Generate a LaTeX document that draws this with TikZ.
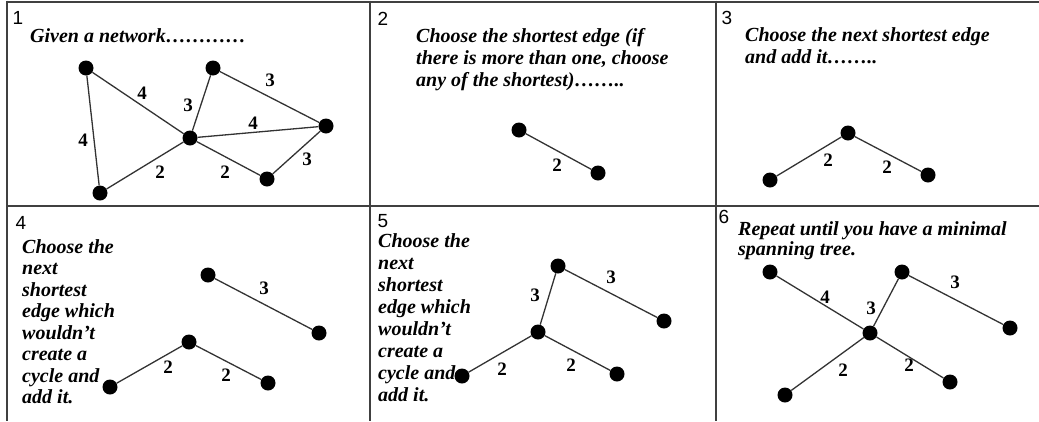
\documentclass[tikz,border=0pt]{standalone}
\usepackage{fontspec}
\setmainfont{Liberation Serif}
\newfontfamily\arialf{Liberation Sans}
\begin{document}
\begin{tikzpicture}[x=1pt,y=-1pt]
\tikzset{
 dot/.style={circle, fill=black, inner sep=0pt, minimum size=15pt},
 edge/.style={draw=black!80, line width=1.3pt},
 wt/.style={font=\fontsize{19}{19}\selectfont\bfseries, inner sep=0pt},
 pnum/.style={font=\arialf\fontsize{19}{19}\selectfont, inner sep=0pt},
 txt/.style={font=\fontsize{20}{22}\selectfont\bfseries\itshape, align=left, anchor=base west, inner sep=0pt},
 gridline/.style={draw=black!75, line width=2pt}
}
\useasboundingbox (0,0) rectangle (1039,421);
% frame
\draw[gridline] (6,1.5) -- (1039,1.5);
\draw[gridline] (7,0.5) -- (7,421);
\draw[gridline] (370,0.5) -- (370,421);
\draw[gridline] (716,0.5) -- (716,421);
\draw[gridline] (6,206) -- (1039,206);

% panel numbers
\node[pnum] (n1) at (18,18) {1};
\node[pnum] (n2) at (383,19) {2};
\node[pnum] (n3) at (727,18) {3};
\node[pnum] (n4) at (21,223) {4};
\node[pnum] (n5) at (383,221) {5};
\node[pnum] (n6) at (724,217) {6};

% texts (anchor is the baseline of the last line)
\node[txt] (t1) at (30,42) {Given a network…………};
\node[txt] (t2) at (416,86) {Choose the shortest edge (if\\there is more than one, choose\\any of the shortest)……..};
\node[txt] (t3) at (745,63) {Choose the next shortest edge\\and add it……..};
\node[txt, font=\fontsize{20}{21.5}\selectfont\bfseries\itshape] (t4) at (22,403.5) {Choose the\\next\\shortest\\edge which\\wouldn’t\\create a\\cycle and\\add it.};
\node[txt] (t5) at (378,401) {Choose the\\next\\shortest\\edge which\\wouldn’t\\create a\\cycle and\\add it.};
\node[txt, font=\fontsize{20}{20}\selectfont\bfseries\itshape] (t6) at (738,255) {Repeat until you have a minimal\\spanning tree.};

% panel 1
\node[dot] (a1) at (86,68) {};
\node[dot] (b1) at (100,193) {};
\node[dot] (c1) at (190,138) {};
\node[dot] (d1) at (213,68) {};
\node[dot] (e1) at (326,126) {};
\node[dot] (f1) at (267,179) {};
\draw[edge] (a1) -- (c1);
\draw[edge] (a1) -- (b1);
\draw[edge] (c1) -- (d1);
\draw[edge] (d1) -- (e1);
\draw[edge] (c1) -- (e1);
\draw[edge] (b1) -- (c1);
\draw[edge] (c1) -- (f1);
\draw[edge] (e1) -- (f1);
\node[wt] (w1a) at (142,93) {4};
\node[wt] (w1b) at (83,140) {4};
\node[wt] (w1c) at (188,105) {3};
\node[wt] (w1d) at (270,80) {3};
\node[wt] (w1e) at (253,123) {4};
\node[wt] (w1f) at (160,172) {2};
\node[wt] (w1g) at (225,172) {2};
\node[wt] (w1h) at (307,159) {3};

% panel 2
\node[dot] (p2) at (519,130) {};
\node[dot] (q2) at (598,173) {};
\draw[edge] (p2) -- (q2);
\node[wt] (w2a) at (557,165) {2};

% panel 3
\node[dot] (l3) at (770,180) {};
\node[dot] (m3) at (848,133) {};
\node[dot] (r3) at (928,175) {};
\draw[edge] (l3) -- (m3);
\draw[edge] (m3) -- (r3);
\node[wt] (w3a) at (828,160) {2};
\node[wt] (w3b) at (887,167) {2};

% panel 4
\node[dot] (a4) at (208,275) {};
\node[dot] (b4) at (319,333) {};
\node[dot] (c4) at (189,342) {};
\node[dot] (d4) at (110,387) {};
\node[dot] (e4) at (268,383) {};
\draw[edge] (a4) -- (b4);
\draw[edge] (d4) -- (c4);
\draw[edge] (c4) -- (e4);
\node[wt] (w4a) at (264,288) {3};
\node[wt] (w4b) at (168,367) {2};
\node[wt] (w4c) at (226,375) {2};

% panel 5
\node[dot] (t5n) at (558,266) {};
\node[dot] (r5) at (664,321) {};
\node[dot] (c5) at (538,332) {};
\node[dot] (l5) at (462,376) {};
\node[dot] (f5) at (617,374) {};
\draw[edge] (t5n) -- (r5);
\draw[edge] (t5n) -- (c5);
\draw[edge] (l5) -- (c5);
\draw[edge] (c5) -- (f5);
\node[wt] (w5a) at (611,277) {3};
\node[wt] (w5b) at (535,295) {3};
\node[wt] (w5c) at (502,369) {2};
\node[wt] (w5d) at (571,365) {2};

% panel 6
\node[dot] (a6) at (770,272) {};
\node[dot] (d6) at (902,272) {};
\node[dot] (c6) at (870,333) {};
\node[dot] (e6) at (1010,328) {};
\node[dot] (b6) at (785,395) {};
\node[dot] (f6) at (950,382) {};
\draw[edge] (a6) -- (c6);
\draw[edge] (d6) -- (c6);
\draw[edge] (d6) -- (e6);
\draw[edge] (b6) -- (c6);
\draw[edge] (c6) -- (f6);
\node[wt] (w6a) at (825,297) {4};
\node[wt] (w6b) at (871,308) {3};
\node[wt] (w6c) at (955,282) {3};
\node[wt] (w6d) at (843,370) {2};
\node[wt] (w6e) at (909,365) {2};
\end{tikzpicture}
\end{document}
